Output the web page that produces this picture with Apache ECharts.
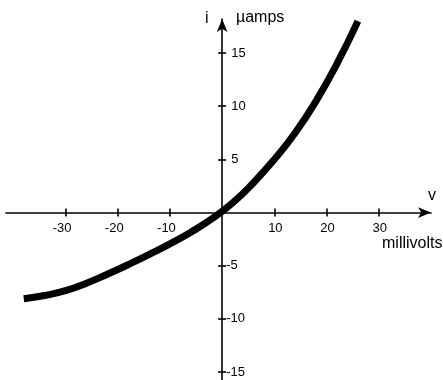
<!DOCTYPE html>
<html>
<head>
<meta charset="utf-8">
<script src="https://cdn.jsdelivr.net/npm/echarts@6/dist/echarts.min.js"></script>
<style>
  html, body { margin: 0; padding: 0; background: #fff; }
  #chart { width: 443px; height: 380px; }
</style>
</head>
<body>
<div id="chart"></div>
<script>
// Diode-style current/voltage characteristic
const voltage = [-38, -34, -30, -26, -22, -18, -14, -10, -6, -2, 2, 6, 10, 14, 18, 22, 26]; // millivolts
const current = [-8.1, -7.8, -7.35, -6.65, -5.8, -4.9, -3.95, -2.95, -1.85, -0.6,
                 0.9, 2.8, 5.0, 7.5, 10.5, 14.0, 18.0];                                  // µamps

const xTicks = [-30, -20, -10, 10, 20, 30];
const yTicks = [-15, -10, -5, 5, 10, 15];

const FONT = 'Liberation Sans, Arial, sans-serif';
const INK = '#000';

const points = voltage.map((v, k) => [v, current[k]]);

// plot area and value ranges
const GRID = { left: 6, right: 12, top: 19, bottom: 0.5 };
const X_MIN = -41.4, X_MAX = 40;
const Y_MIN = -15.7, Y_MAX = 18.2;
const W = 443 - GRID.left - GRID.right;
const H = 380 - GRID.top - GRID.bottom;
// shift axes from the grid edges so they cross at the origin
const xAxisShift = -H * (0 - Y_MIN) / (Y_MAX - Y_MIN);
const yAxisShift = -W * (0 - X_MIN) / (X_MAX - X_MIN);

function signedLabel(val) {
  return val < 0 ? '{n|' + val + '}' : '{p|' + val + '}';
}

const labelText = { fontSize: 13, fontFamily: FONT, color: INK };
const tickStyle = { color: INK, width: 1.6 };

const xBase = { type: 'value', min: X_MIN, max: X_MAX, position: 'bottom', offset: xAxisShift, splitLine: { show: false } };
const yBase = { type: 'value', min: Y_MIN, max: Y_MAX, position: 'left', offset: yAxisShift, splitLine: { show: false } };

const chart = echarts.init(document.getElementById('chart'), null, { renderer: 'canvas' });
chart.setOption({
  backgroundColor: '#fff',
  animation: false,
  grid: Object.assign({ containLabel: false }, GRID),
  xAxis: [
    Object.assign({}, xBase, {
      axisLine: { show: true, onZero: false, symbol: ['none', 'arrow'], symbolSize: [8, 13], lineStyle: tickStyle },
      axisTick: { show: true, inside: false, length: 4, customValues: xTicks, lineStyle: tickStyle },
      axisLabel: {
        show: true, customValues: xTicks, margin: 9, formatter: signedLabel,
        rich: {
          n: Object.assign({}, labelText, { padding: [0, 7, 0, 0] }),
          p: Object.assign({}, labelText, { padding: [0, 0, 0, 2] })
        }
      }
    }),
    Object.assign({}, xBase, {
      axisLine: { show: false, onZero: false },
      axisTick: { show: true, inside: true, length: 4, customValues: xTicks, lineStyle: tickStyle },
      axisLabel: { show: false }
    })
  ],
  yAxis: [
    Object.assign({}, yBase, {
      axisLine: { show: true, onZero: false, symbol: ['none', 'arrow'], symbolSize: [8, 13], lineStyle: tickStyle },
      axisTick: { show: true, inside: false, length: 4, customValues: yTicks, lineStyle: tickStyle },
      axisLabel: {
        show: true, inside: true, customValues: yTicks, margin: 4, formatter: signedLabel,
        rich: {
          n: Object.assign({}, labelText),
          p: Object.assign({}, labelText, { padding: [0, 0, 0, 5] })
        }
      }
    }),
    Object.assign({}, yBase, {
      axisLine: { show: false, onZero: false },
      axisTick: { show: true, inside: true, length: 4, customValues: yTicks, lineStyle: tickStyle },
      axisLabel: { show: false }
    })
  ],
  graphic: [
    { type: 'text', left: 205, top: 10.5, style: { text: 'i', font: '16px ' + FONT, fill: INK } },
    { type: 'text', left: 236, top: 10, style: { text: 'µamps', font: '16px ' + FONT, fill: INK } },
    { type: 'text', left: 428, top: 187.5, style: { text: 'v', font: '16px ' + FONT, fill: INK } },
    { type: 'text', left: 382, top: 235.5, style: { text: 'millivolts', font: '16px ' + FONT, fill: INK } }
  ],
  series: [{
    type: 'line',
    xAxisIndex: 0, yAxisIndex: 0,
    data: points,
    smooth: true,
    showSymbol: false,
    lineStyle: { color: INK, width: 7, cap: 'butt' },
    silent: true
  }]
});
</script>
</body>
</html>
